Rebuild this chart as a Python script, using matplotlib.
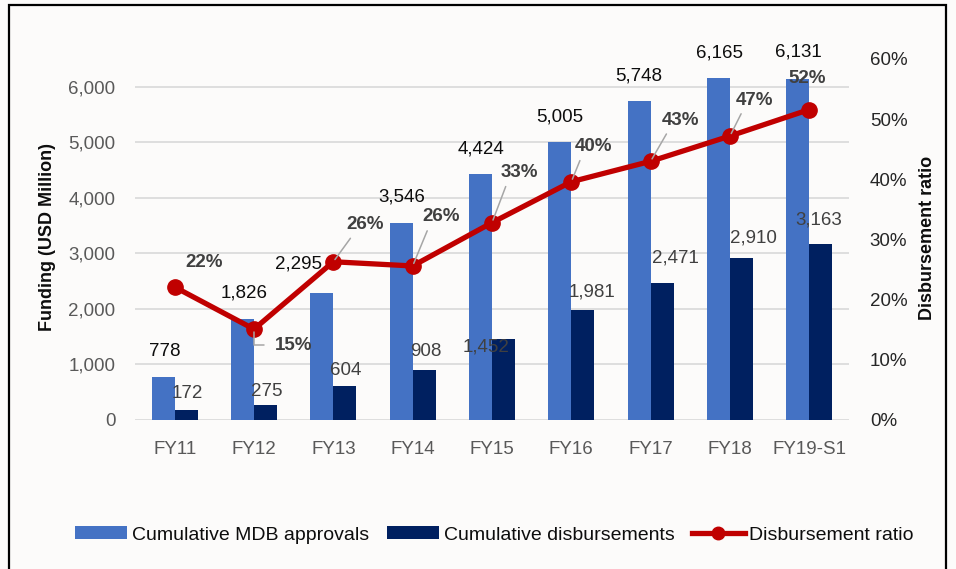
import matplotlib
matplotlib.use("Agg")
import matplotlib.pyplot as plt
from matplotlib.patches import Rectangle, Patch
from matplotlib.lines import Line2D
from matplotlib.ticker import FuncFormatter
import numpy as np

plt.rcParams['font.family'] = ['Liberation Sans', 'DejaVu Sans']

categories = ["FY11", "FY12", "FY13", "FY14", "FY15", "FY16", "FY17", "FY18", "FY19-S1"]
approvals = [778, 1826, 2295, 3546, 4424, 5005, 5748, 6165, 6131]
disbursements = [172, 275, 604, 908, 1452, 1981, 2471, 2910, 3163]
ratio = [0.221, 0.151, 0.263, 0.256, 0.328, 0.396, 0.430, 0.472, 0.516]
ratio_labels = ["22%", "15%", "26%", "26%", "33%", "40%", "43%", "47%", "52%"]

# label offsets in pixels (dx, dy) relative to anchor
appr_off = [(2, 25), (2, 26), (-23, 29), (1, 26), (1, 25), (0, 25), (0, 25), (1, 25), (1, 27)]
disb_off = [(1, 17), (1, 13), (1, 16), (2, 18), (-17, -8), (9, 18), (13, 25), (12, 20), (-2, 24)]
ratio_off = [(29, 25), (40, -16), (32, 37), (28, 49), (27, 50), (22, 35), (30, 41), (25, 36), (-2, 31)]
leader = [None, 'elbow', 'diag', 'diag', 'diag', 'diag', 'diag', 'diag', None]

BLUE = '#4472c4'
NAVY = '#002060'
RED = '#c00000'
BG = '#fcfbfa'

fig = plt.figure(figsize=(9.56, 5.69), dpi=100, facecolor=BG)
ax = fig.add_axes([135/956, 1-420/569, 714/956, 361/569])
ax.set_facecolor(BG)
ax2 = ax.twinx()

x = np.arange(len(categories))
w = 0.29
ax.bar(x - w/2, approvals, width=w, color=BLUE, zorder=2, clip_on=False)
ax.bar(x + w/2, disbursements, width=w, color=NAVY, zorder=2, clip_on=False)

ax.set_xlim(-0.5, len(categories) - 0.5)
ax.set_ylim(0, 6500)
ax.set_yticks(np.arange(0, 6001, 1000))
ax.yaxis.set_major_formatter(FuncFormatter(lambda v, p: f"{int(v):,}"))
ax.grid(axis='y', color='#d9d9d9', linewidth=1.2, zorder=0)
ax.set_axisbelow(True)
for s in ax.spines.values():
    s.set_visible(False)
for s in ax2.spines.values():
    s.set_visible(False)
ax.set_xticks(x)
ax.set_xticklabels(categories)
ax.tick_params(axis='x', length=0, pad=15, labelsize=13.5, labelcolor='#595959')
ax.tick_params(axis='y', length=0, pad=14, labelsize=13.5, labelcolor='#595959')

ax2.plot(x, ratio, color=RED, linewidth=3.8, marker='o', markersize=11, zorder=3, clip_on=False)
ax2.set_ylim(0, 0.6)
ax2.set_yticks(np.arange(0, 0.61, 0.1))
ax2.yaxis.set_major_formatter(FuncFormatter(lambda v, p: f"{v*100:.0f}%"))
ax2.tick_params(axis='y', length=0, pad=15, labelsize=13.5, labelcolor='#262626')

# bar labels
for i in range(len(categories)):
    dx, dy = appr_off[i]
    ax.annotate(f"{approvals[i]:,}", xy=(x[i] - w/2, approvals[i]), xytext=(dx, dy),
                textcoords='offset pixels', ha='center', va='center',
                fontsize=13.5, color='#0d0d0d', annotation_clip=False)
    dx, dy = disb_off[i]
    ax.annotate(f"{disbursements[i]:,}", xy=(x[i] + w/2, disbursements[i]), xytext=(dx, dy),
                textcoords='offset pixels', ha='center', va='center',
                fontsize=13.5, color='#404040', annotation_clip=False)

# ratio labels
for i in range(len(categories)):
    dx, dy = ratio_off[i]
    kw = {}
    if leader[i] == 'diag':
        kw['arrowprops'] = dict(arrowstyle='-', color='#a6a6a6', lw=1.1,
                                relpos=(0.2, 0.0), shrinkA=2, shrinkB=2)
    elif leader[i] == 'elbow':
        kw['arrowprops'] = dict(arrowstyle='-', color='#a6a6a6', lw=1.1,
                                relpos=(0.0, 0.5), shrinkA=6, shrinkB=2,
                                connectionstyle='angle,angleA=0,angleB=90,rad=0')
    ax2.annotate(ratio_labels[i], xy=(x[i], ratio[i]), xytext=(dx, dy),
                 textcoords='offset pixels', ha='center', va='center',
                 fontsize=13.5, fontweight='bold', color='#404040',
                 annotation_clip=False, zorder=4, **kw)

fig.text(48/956, 1-237/569, "Funding (USD Million)", rotation=90, ha='center', va='center',
         fontsize=13, fontweight='bold', color='#0d0d0d')
fig.text(928/956, 1-238/569, "Disbursement ratio", rotation=90, ha='center', va='center',
         fontsize=13, fontweight='bold', color='#0d0d0d')

handles = [Patch(facecolor=BLUE, edgecolor='none'),
           Patch(facecolor=NAVY, edgecolor='none'),
           Line2D([0], [0], color=RED, lw=3.8, marker='o', markersize=9)]
labels = ["Cumulative MDB approvals", "Cumulative disbursements", "Disbursement ratio"]
fig.legend(handles, labels, loc='center', bbox_to_anchor=(0.517, 1-535/569), ncol=3,
           frameon=False, fontsize=14, handlelength=2.7, handleheight=0.65,
           handletextpad=0.25, columnspacing=0.9, labelcolor='#0d0d0d')

# outer frame
fig.patches.append(Rectangle((9/956, -0.05), (946-9)/956, 1.05 - 5/569,
                             transform=fig.transFigure, fill=False,
                             edgecolor='#000000', linewidth=1.6))

fig.savefig("out.png", dpi=100, facecolor=BG)
